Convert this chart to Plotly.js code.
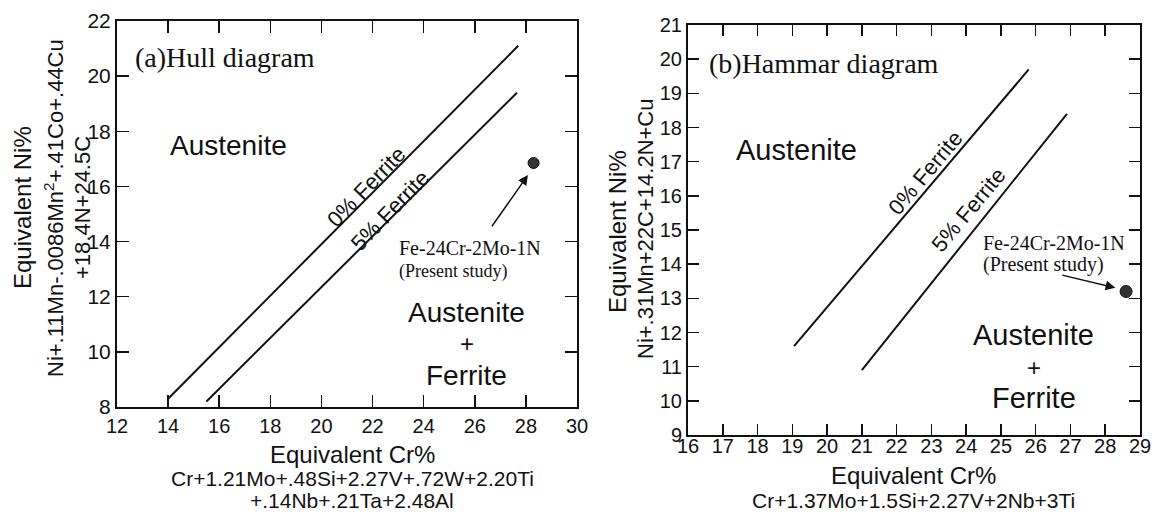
<!DOCTYPE html>
<html>
<head>
<meta charset="utf-8">
<script src="https://cdn.plot.ly/plotly-3.0.1.min.js"></script>
<style>html,body{margin:0;padding:0;background:#fff;}#chart{width:1152px;height:512px;}</style>
</head>
<body>
<div id="chart"></div>
<script>
// ---- Data ----
const hullZeroX = [14.0, 27.7];
const hullZeroY = [8.3, 21.1];
const hullFiveX = [15.5, 27.65];
const hullFiveY = [8.2, 19.4];
const hullStudyX = [28.3];
const hullStudyY = [16.85];

const hammarZeroX = [19.05, 25.8];
const hammarZeroY = [11.6, 19.7];
const hammarFiveX = [21.0, 26.9];
const hammarFiveY = [10.9, 18.4];
const hammarStudyX = [28.6];
const hammarStudyY = [13.2];

const hullXTicks = [12, 14, 16, 18, 20, 22, 24, 26, 28, 30];
const hullYTicks = [8, 10, 12, 14, 16, 18, 20, 22];
const hammarXTicks = [16, 17, 18, 19, 20, 21, 22, 23, 24, 25, 26, 27, 28, 29];
const hammarYTicks = [9, 10, 11, 12, 13, 14, 15, 16, 17, 18, 19, 20, 21];

const sans = 'Liberation Sans, Arial, sans-serif';
const serif = 'Liberation Serif, Times New Roman, serif';
const ink = '#111';

function lineTrace(x, y, xa, ya) {
  return {x: x, y: y, xaxis: xa, yaxis: ya, mode: 'lines', type: 'scatter',
    line: {color: ink, width: 2}, hoverinfo: 'skip', showlegend: false};
}
function pointTrace(x, y, xa, ya, size) {
  return {x: x, y: y, xaxis: xa, yaxis: ya, mode: 'markers', type: 'scatter',
    marker: {color: '#333', size: size, line: {color: '#111', width: 1}}, showlegend: false};
}

const data = [
  lineTrace(hullZeroX, hullZeroY, 'x', 'y'),
  lineTrace(hullFiveX, hullFiveY, 'x', 'y'),
  pointTrace(hullStudyX, hullStudyY, 'x', 'y', 11),
  lineTrace(hammarZeroX, hammarZeroY, 'x2', 'y2'),
  lineTrace(hammarFiveX, hammarFiveY, 'x2', 'y2'),
  pointTrace(hammarStudyX, hammarStudyY, 'x2', 'y2', 12)
];

function axis(range, ticks, domain, anchor, len, standoff, fsize) {
  return {range: range, domain: domain, anchor: anchor, tickvals: ticks,
    ticktext: ticks.map(String), ticks: 'inside', ticklen: len, tickwidth: 1.5,
    tickcolor: ink, showline: true, linecolor: ink, linewidth: 2, mirror: 'ticks',
    showgrid: false, zeroline: false, fixedrange: true,
    ticklabeloverflow: 'allow', ticklabelstandoff: standoff,
    tickfont: {family: sans, size: fsize, color: ink}};
}

const W = 1152, H = 512;
function px(x) { return x / W; }
function py(y) { return 1 - y / H; }

function txt(text, x, y, xr, yr, font, size, opts) {
  return Object.assign({text: text, x: x, y: y, xref: xr, yref: yr, showarrow: false,
    xanchor: 'center', yanchor: 'middle',
    font: {family: font, size: size, color: ink}}, opts || {});
}

const annotations = [
  // Left panel texts
  txt('(a)Hull diagram', 12.63, 20.69, 'x', 'y', serif, 28, {xanchor: 'left'}),
  txt('Austenite', 16.38, 17.5, 'x', 'y', sans, 28),
  txt('0% Ferrite', 21.78, 15.98, 'x', 'y', sans, 22, {textangle: -46}),
  txt('5% Ferrite', 22.68, 15.14, 'x', 'y', sans, 22, {textangle: -46}),
  txt('Fe-24Cr-2Mo-1N', 22.95, 13.77, 'x', 'y', serif, 20, {xanchor: 'left'}),
  txt('(Present study)', 22.95, 12.9, 'x', 'y', serif, 18, {xanchor: 'left'}),
  txt('Austenite', 25.69, 11.41, 'x', 'y', sans, 28),
  txt('+', 25.69, 10.32, 'x', 'y', sans, 24),
  txt('Ferrite', 25.69, 9.16, 'x', 'y', sans, 28),
  {x: 28.08, y: 16.41, ax: 26.63, ay: 14.5, xref: 'x', yref: 'y', axref: 'x', ayref: 'y',
   text: '', showarrow: true, arrowhead: 2, arrowsize: 1.3, arrowwidth: 1.5, arrowcolor: ink},

  // Right panel texts
  txt('(b)Hammar diagram', 16.54, 19.86, 'x2', 'y2', serif, 28, {xanchor: 'left'}),
  txt('Austenite', 19.12, 17.34, 'x2', 'y2', sans, 29),
  txt('0% Ferrite', 22.84, 16.67, 'x2', 'y2', sans, 22, {textangle: -50}),
  txt('5% Ferrite', 24.08, 15.59, 'x2', 'y2', sans, 22, {textangle: -50}),
  txt('Fe-24Cr-2Mo-1N', 24.42, 14.62, 'x2', 'y2', serif, 20, {xanchor: 'left'}),
  txt('(Present study)', 24.42, 13.98, 'x2', 'y2', serif, 20, {xanchor: 'left'}),
  txt('Austenite', 25.94, 11.93, 'x2', 'y2', sans, 29),
  txt('+', 25.94, 10.99, 'x2', 'y2', sans, 24),
  txt('Ferrite', 25.94, 10.08, 'x2', 'y2', sans, 29),
  {x: 28.29, y: 13.31, ax: 26.72, ay: 13.69, xref: 'x2', yref: 'y2', axref: 'x2', ayref: 'y2',
   text: '', showarrow: true, arrowhead: 2, arrowsize: 1.3, arrowwidth: 1.5, arrowcolor: ink},

  // Axis titles, left panel
  txt('Equivalent Cr%', px(352), py(454), 'paper', 'paper', sans, 24),
  txt('Cr+1.21Mo+.48Si+2.27V+.72W+2.20Ti', px(352), py(478), 'paper', 'paper', sans, 21),
  txt('+.14Nb+.21Ta+2.48Al', px(352), py(500), 'paper', 'paper', sans, 21),
  txt('Equivalent Ni%', px(22), py(208), 'paper', 'paper', sans, 24, {textangle: -90}),
  txt('Ni+.11Mn-.0086Mn<sup>2</sup>+.41Co+.44Cu', px(54), py(208), 'paper', 'paper', sans, 22, {textangle: -90}),
  txt('+18.4N+24.5C', px(82), py(208), 'paper', 'paper', sans, 22, {textangle: -90}),

  // Axis titles, right panel
  txt('Equivalent Cr%', px(913), py(475), 'paper', 'paper', sans, 24),
  txt('Cr+1.37Mo+1.5Si+2.27V+2Nb+3Ti', px(913), py(500), 'paper', 'paper', sans, 21),
  txt('Equivalent Ni%', px(617), py(232), 'paper', 'paper', sans, 24, {textangle: -90}),
  txt('Ni+.31Mn+22C+14.2N+Cu', px(645), py(229), 'paper', 'paper', sans, 22, {textangle: -90})
];

const layout = {
  width: W, height: H,
  margin: {l: 0, r: 0, t: 0, b: 0},
  paper_bgcolor: '#fff', plot_bgcolor: '#fff',
  showlegend: false,
  xaxis: axis([12, 30], hullXTicks, [px(117), px(577)], 'y', 12, 0, 20),
  yaxis: axis([8, 22], hullYTicks, [py(407), py(21)], 'x', 12, 0, 21),
  xaxis2: axis([16, 29], hammarXTicks, [px(688), px(1140)], 'y2', 11, -8, 20),
  yaxis2: axis([9, 21], hammarYTicks, [py(435), py(25)], 'x2', 11, 0, 20),
  annotations: annotations
};

Plotly.newPlot('chart', data, layout, {displayModeBar: false, staticPlot: true});
</script>
</body>
</html>
